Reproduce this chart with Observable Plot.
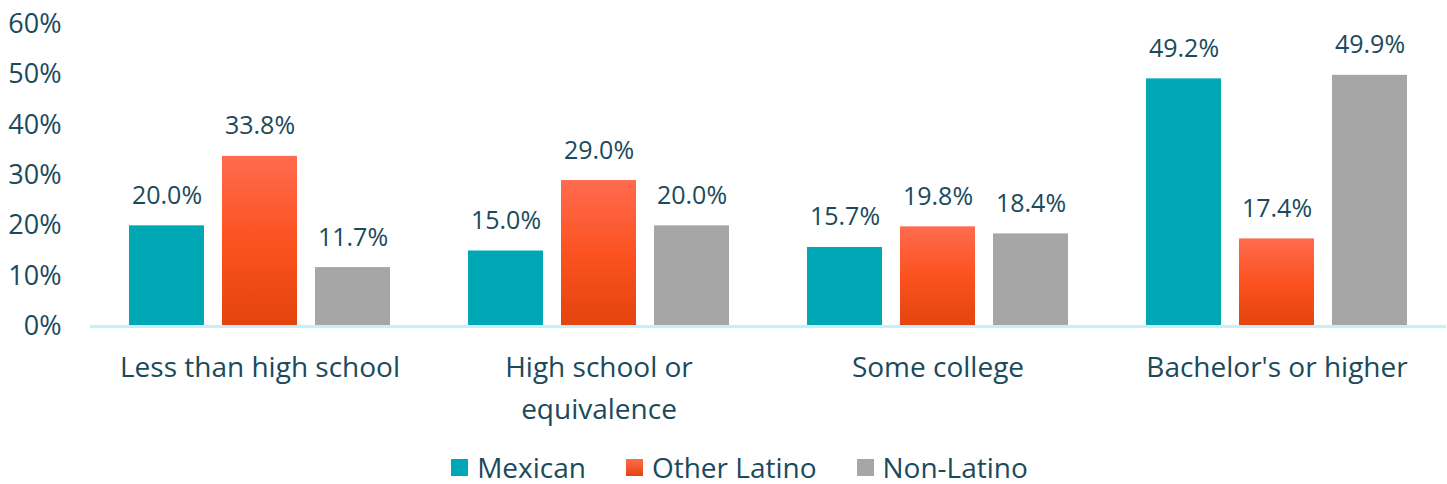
<!DOCTYPE html>
<html>
<head>
<meta charset="utf-8">
<script src="https://cdn.jsdelivr.net/npm/d3@7"></script>
<script src="https://cdn.jsdelivr.net/npm/@observablehq/plot@0.6"></script>
<style>
  body { margin: 0; background: #fff; font-family: "Open Sans", sans-serif; }
  #legend { display: flex; justify-content: center; gap: 40px; padding-top: 12px; padding-left: 32px; font-size: 28px; line-height: 1.1; color: #1a4a5c; }
  #legend .item { display: flex; align-items: center; gap: 9px; }
  #legend .sw { width: 17px; height: 17px; display: inline-block; }
</style>
</head>
<body>
<div id="chart"></div>
<div id="legend"></div>
<script>
const categories = ["Less than high school", "High school or equivalence", "Some college", "Bachelor's or higher"];
const categoryLabels = ["Less than high school", "High school or\nequivalence", "Some college", "Bachelor's or higher"];
const seriesNames = ["Mexican", "Other Latino", "Non-Latino"];
const mexican = [20.0, 15.0, 15.7, 49.2];
const otherLatino = [33.8, 29.0, 19.8, 17.4];
const nonLatino = [11.7, 20.0, 18.4, 49.9];
const yTicks = [0, 10, 20, 30, 40, 50, 60];
const seriesColors = ["#00a7b5", "url(#otherGrad)", "#a6a6a6"];
const legendColors = ["#00a7b5", "linear-gradient(#ff6b4f, #e3440e)", "#a6a6a6"];

const seriesValues = [mexican, otherLatino, nonLatino];
const data = [];
categories.forEach((c, i) => {
  seriesNames.forEach((s, j) => data.push({category: c, series: s, value: seriesValues[j][i]}));
});
const catData = categories.map((c, i) => ({category: c, label: categoryLabels[i]}));

const textColor = "#1a4a5c";
const font = "'Open Sans', sans-serif";

const gradient = () => {
  const ns = "http://www.w3.org/2000/svg";
  const defs = document.createElementNS(ns, "defs");
  defs.innerHTML = `<linearGradient id="otherGrad" x1="0" y1="0" x2="0" y2="1">
    <stop offset="0" stop-color="#ff6b4f"/>
    <stop offset="0.5" stop-color="#fb5220"/>
    <stop offset="1" stop-color="#e3440e"/>
  </linearGradient>`;
  return defs;
};

const chart = Plot.plot({
  width: 1447,
  height: 440,
  marginLeft: 89,
  marginRight: 0,
  marginTop: 24,
  marginBottom: 114,
  style: {fontFamily: font, background: "#fff"},
  fx: {domain: categories, padding: 0, axis: null},
  x: {domain: seriesNames, paddingInner: 0.19, paddingOuter: 0.4, axis: null},
  y: {domain: [0, 60], axis: null},
  color: {domain: seriesNames, range: seriesColors},
  marks: [
    gradient,
    Plot.axisY(yTicks, {tickSize: 0, tickPadding: 29, fontSize: 27, fill: textColor, label: null, tickFormat: d => d + "%"}),
    Plot.barY(data, {fx: "category", x: "series", y: "value", fill: "series"}),
    Plot.ruleY([0], {stroke: "#c5effb", strokeWidth: 3}),
    Plot.text(data, {fx: "category", x: "series", y: "value", text: d => d.value.toFixed(1) + "%", dy: -30, fontSize: 25, fill: textColor}),
    Plot.text(catData, {fx: "category", text: "label", frameAnchor: "bottom", lineAnchor: "top", dy: 21, fontSize: 28, lineHeight: 1.5, fill: textColor})
  ]
});
document.getElementById("chart").appendChild(chart);

const legend = document.getElementById("legend");
seriesNames.forEach((s, i) => {
  const item = document.createElement("div");
  item.className = "item";
  const sw = document.createElement("span");
  sw.className = "sw";
  sw.style.background = legendColors[i];
  const t = document.createElement("span");
  t.textContent = s;
  item.appendChild(sw);
  item.appendChild(t);
  legend.appendChild(item);
});
</script>
</body>
</html>
